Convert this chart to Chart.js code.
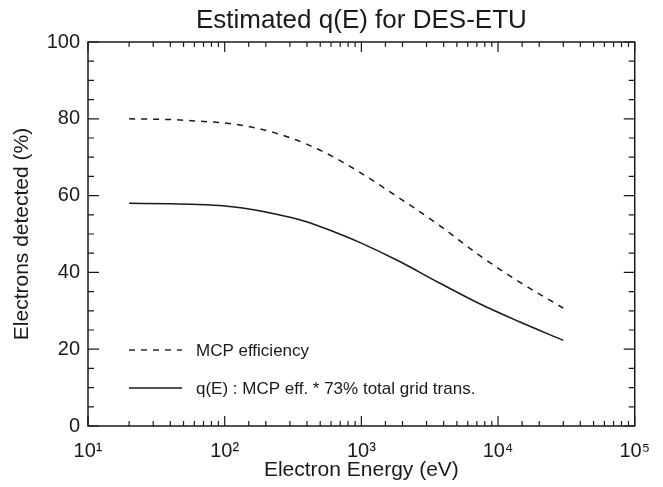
<!DOCTYPE html>
<html>
<head>
<meta charset="utf-8">
<script src="https://cdn.jsdelivr.net/npm/chart.js@4"></script>
<style>
  body { margin: 0; background: #fff; }
  canvas { display: block; }
</style>
</head>
<body>
<canvas id="chart" width="663" height="487"></canvas>
<script>
// values
const energy = [20, 40, 63.5, 100, 139, 230, 380, 630, 990, 1890, 3700, 7270, 14200, 30000]
const mcpEfficiency = [80.0, 79.8, 79.4, 78.9, 78.2, 76.4, 73.7, 70.0, 65.9, 59.4, 52.3, 44.5, 37.6, 30.7]
const qE = [58.0, 57.9, 57.7, 57.3, 56.7, 55.3, 53.4, 50.6, 47.7, 42.9, 37.3, 31.9, 27.2, 22.3]
const seriesLabels = ['MCP efficiency', 'q(E) : MCP eff. * 73% total grid trans.']
const xTickLabels = { 10: '10\u00b9', 100: '10\u00b2', 1000: '10\u00b3', 10000: '10\u2074', 100000: '10\u2075' }
const yTicks = [0, 20, 40, 60, 80, 100]

const FONT = "'Liberation Sans', Arial, Helvetica, sans-serif"
const INK = '#1a1a1a'

const toPoints = (xs, ys) => xs.map((x, i) => ({ x: x, y: ys[i] }))

// inward ticks on all four sides + the frame (IDL style)
const framePlugin = {
  id: 'frame',
  afterDraw(chart) {
    const { ctx, chartArea: a, scales } = chart
    const x = scales.x
    const y = scales.y
    ctx.save()
    ctx.strokeStyle = INK
    ctx.lineWidth = 1.5
    ctx.strokeRect(a.left, a.top, a.right - a.left, a.bottom - a.top)
    ctx.lineWidth = 1.2
    ctx.beginPath()
    x.ticks.forEach((t) => {
      const px = x.getPixelForValue(t.value)
      const major = xTickLabels[t.value] !== undefined
      const len = major ? 10 : 5
      ctx.moveTo(px, a.bottom)
      ctx.lineTo(px, a.bottom - len)
      ctx.moveTo(px, a.top)
      ctx.lineTo(px, a.top + len)
    })
    for (let v = 0; v <= 100; v += 5) {
      const py = y.getPixelForValue(v)
      const len = v % 20 === 0 ? 11 : 6
      ctx.moveTo(a.left, py)
      ctx.lineTo(a.left + len, py)
      ctx.moveTo(a.right, py)
      ctx.lineTo(a.right - len, py)
    }
    ctx.stroke()

    // title
    ctx.fillStyle = INK
    ctx.font = '26px ' + FONT
    ctx.textAlign = 'center'
    ctx.textBaseline = 'alphabetic'
    ctx.fillText('Estimated q(E) for DES-ETU', (a.left + a.right) / 2, 28)

    // legend inside the plot, lower left
    const rows = [a.bottom - 76, a.bottom - 38]
    ctx.font = '17px ' + FONT
    ctx.textAlign = 'left'
    ctx.textBaseline = 'middle'
    chart.data.datasets.forEach((ds, i) => {
      const ly = rows[i]
      ctx.beginPath()
      ctx.lineWidth = 1.4
      ctx.setLineDash(ds.borderDash || [])
      ctx.moveTo(a.left + 41, ly)
      ctx.lineTo(a.left + 94, ly)
      ctx.stroke()
      ctx.setLineDash([])
      ctx.fillText(ds.label, a.left + 108, ly + 1)
    })
    ctx.restore()
  },
}

new Chart(document.getElementById('chart'), {
  type: 'line',
  data: {
    datasets: [
      {
        label: seriesLabels[0],
        data: toPoints(energy, mcpEfficiency),
        borderColor: INK,
        borderWidth: 1.5,
        borderDash: [6, 6],
        pointRadius: 0,
        fill: false,
        cubicInterpolationMode: 'monotone',
      },
      {
        label: seriesLabels[1],
        data: toPoints(energy, qE),
        borderColor: INK,
        borderWidth: 1.5,
        pointRadius: 0,
        fill: false,
        cubicInterpolationMode: 'monotone',
      },
    ],
  },
  options: {
    responsive: false,
    animation: false,
    layout: { padding: { top: 42, right: 27, bottom: 0, left: 0 } },
    plugins: {
      legend: { display: false },
      title: { display: false },
      tooltip: { enabled: false },
    },
    scales: {
      x: {
        type: 'logarithmic',
        min: 10,
        max: 100000,
        grid: { display: false, drawTicks: false },
        border: { display: false },
        ticks: {
          autoSkip: false,
          maxRotation: 0,
          padding: 13,
          color: INK,
          font: { family: FONT, size: 20 },
          callback: (value) => xTickLabels[value] || '',
        },
        title: {
          display: true,
          text: 'Electron Energy (eV)',
          color: INK,
          font: { family: FONT, size: 21 },
          padding: { top: 0, bottom: 4 },
        },
        afterFit: (scale) => {
          scale.height = 61
        },
      },
      y: {
        min: 0,
        max: 100,
        grid: { display: false, drawTicks: false },
        border: { display: false },
        afterBuildTicks: (scale) => {
          scale.ticks = yTicks.map((v) => ({ value: v }))
        },
        ticks: {
          padding: 8,
          color: INK,
          font: { family: FONT, size: 20 },
        },
        title: {
          display: true,
          text: 'Electrons detected (%)',
          color: INK,
          font: { family: FONT, size: 21 },
          padding: { top: 10, bottom: 0 },
        },
        afterFit: (scale) => {
          scale.width = 88
        },
      },
    },
  },
  plugins: [framePlugin],
})
</script>
</body>
</html>
